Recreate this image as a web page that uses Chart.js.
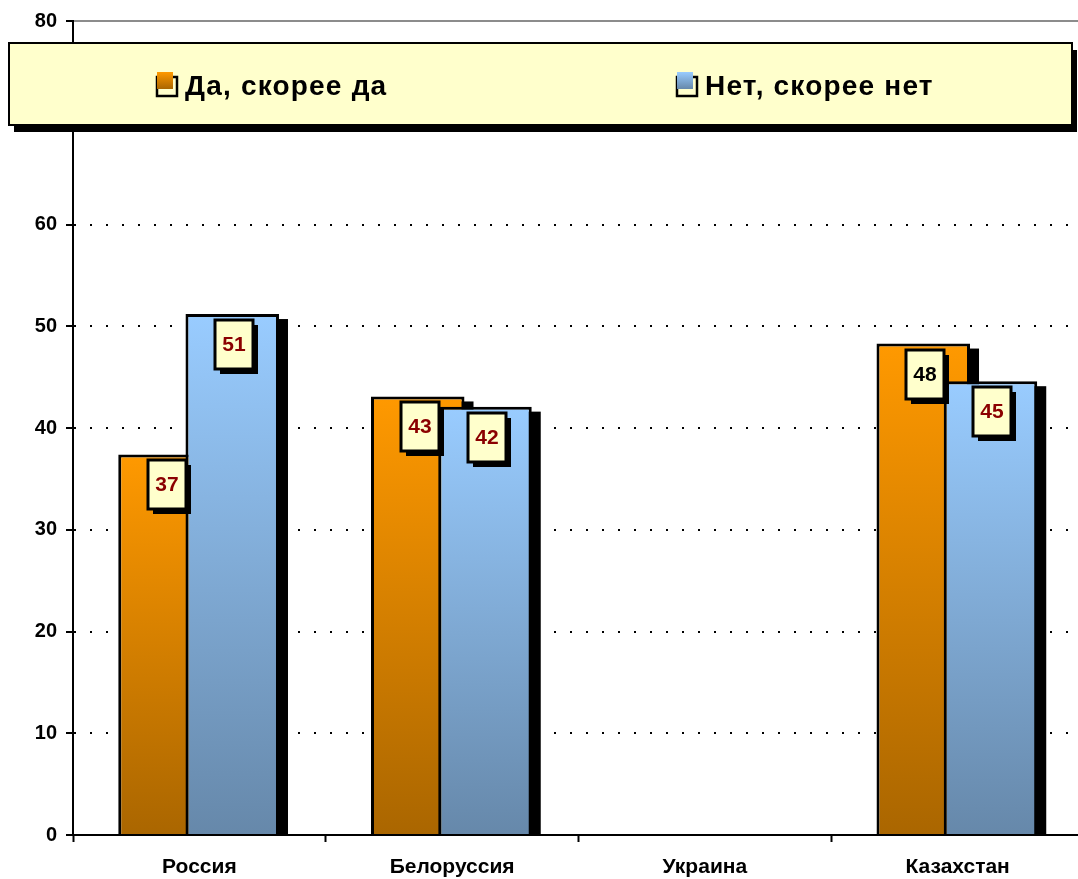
<!DOCTYPE html>
<html>
<head>
<meta charset="utf-8">
<script src="https://cdn.jsdelivr.net/npm/chart.js@4/dist/chart.umd.min.js"></script>
<style>
  html, body { margin: 0; padding: 0; background: #fff; overflow: hidden; }
  #wrap { width: 1090px; height: 879px; }
</style>
</head>
<body>
<div id="wrap"><canvas id="chart"></canvas></div>
<script>
// data
const categories = ['Россия', 'Белоруссия', 'Украина', 'Казахстан'];
const seriesNames = ['Да, скорее да', 'Нет, скорее нет'];
const yesValues = [37.4, 43.1, null, 48.3];
const noValues = [51.2, 42.1, null, 44.6];
const yMin = 0, yMax = 80, yStep = 10;

// styling
const FONT = '"Liberation Sans", Arial, sans-serif';
const orangeStops = ['#FF9900', '#AA6600'];
const blueStops = ['#99CCFF', '#6688AA'];
const labelColors = [
    ['#8B0000', '#8B0000', '#8B0000', '#000000'],
    ['#8B0000', '#8B0000', '#8B0000', '#8B0000']
];
const barShift = [-0.136, 0.130]; // part of a category width, bars overlap like in Excel

const barGradient = (stops) => (c) => {
    const chart = c.chart;
    if (!chart.chartArea || !c.parsed || c.parsed.y == null) return stops[0];
    const y = chart.scales.y;
    const g = chart.ctx.createLinearGradient(0, y.getPixelForValue(c.parsed.y), 0, y.getPixelForValue(0));
    g.addColorStop(0, stops[0]);
    g.addColorStop(1, stops[1]);
    return g;
};

// moves the bars sideways so they overlap
const shiftBars = {
    id: 'shiftBars',
    afterDatasetsUpdate(chart) {
        const x = chart.scales.x;
        const cat = x.getPixelForValue(1) - x.getPixelForValue(0);
        chart.data.datasets.forEach((ds, i) => {
            chart.getDatasetMeta(i).data.forEach(el => { el.x += barShift[i] * cat; });
        });
    }
};

// hard black drop shadow behind each bar
const barShadows = {
    id: 'barShadows',
    beforeDatasetsDraw(chart) {
        const ctx = chart.ctx;
        ctx.save();
        ctx.fillStyle = '#000';
        chart.data.datasets.forEach((ds, i) => {
            chart.getDatasetMeta(i).data.forEach((el, j) => {
                if (ds.data[j] == null) return;
                const p = el.getProps(['x', 'y', 'base', 'width'], true);
                ctx.fillRect(p.x - p.width / 2 + 9, p.y + 5, p.width, p.base - p.y - 5);
            });
        });
        ctx.restore();
    }
};

// yellow value boxes
const valueBoxes = {
    id: 'valueBoxes',
    afterDatasetsDraw(chart) {
        const ctx = chart.ctx;
        ctx.save();
        chart.data.datasets.forEach((ds, i) => {
            chart.getDatasetMeta(i).data.forEach((el, j) => {
                if (ds.data[j] == null) return;
                const p = el.getProps(['x', 'y'], true);
                const w = 38, h = 49;
                const bx = Math.round(p.x - w / 2 + 2), by = Math.round(p.y + 6);
                ctx.fillStyle = '#000';
                ctx.fillRect(bx + 5, by + 5, w, h);
                ctx.fillStyle = '#FFFFCC';
                ctx.fillRect(bx, by, w, h);
                ctx.lineWidth = 3;
                ctx.strokeStyle = '#000';
                ctx.strokeRect(bx, by, w, h);
                ctx.fillStyle = labelColors[i][j];
                ctx.font = 'bold 21px ' + FONT;
                ctx.textAlign = 'center';
                ctx.textBaseline = 'middle';
                ctx.fillText(String(Math.round(ds.data[j])), bx + w / 2, by + h / 2 + 1);
            });
        });
        ctx.restore();
    }
};

// legend box drawn over the plot
const boxLegend = {
    id: 'boxLegend',
    afterDraw(chart) {
        const ctx = chart.ctx;
        const L = 9, T = 43, R = 1072, B = 125;
        ctx.save();
        ctx.fillStyle = '#000';
        ctx.fillRect(L + 5, T + 7, R - L, B - T);
        ctx.fillStyle = '#FFFFCC';
        ctx.fillRect(L, T, R - L, B - T);
        ctx.lineWidth = 2;
        ctx.strokeStyle = '#000';
        ctx.strokeRect(L, T, R - L, B - T);

        const items = [
            { x: 156, stops: orangeStops },
            { x: 676, stops: blueStops }
        ];
        items.forEach((it, i) => {
            ctx.fillStyle = '#FFFFCC';
            ctx.fillRect(it.x, 76, 21, 20);
            ctx.lineWidth = 2.5;
            ctx.strokeStyle = '#000';
            ctx.strokeRect(it.x + 1, 77, 20, 19);
            const g = ctx.createLinearGradient(0, 72, 0, 89);
            g.addColorStop(0, it.stops[0]);
            g.addColorStop(1, it.stops[1]);
            ctx.fillStyle = g;
            ctx.fillRect(it.x + 1, 72, 16, 17);
            ctx.fillStyle = '#000';
            ctx.font = 'bold 28px ' + FONT;
            ctx.letterSpacing = '1.2px';
            ctx.textAlign = 'left';
            ctx.textBaseline = 'middle';
            ctx.fillText(seriesNames[i], it.x + 29, 87);
            ctx.letterSpacing = '0px';
        });
        ctx.restore();
    }
};

new Chart(document.getElementById('chart'), {
    type: 'bar',
    data: {
        labels: categories,
        datasets: [
            {
                label: seriesNames[0],
                data: yesValues,
                backgroundColor: barGradient(orangeStops),
                borderColor: '#000',
                borderWidth: 3,
                order: 1
            },
            {
                label: seriesNames[1],
                data: noValues,
                backgroundColor: barGradient(blueStops),
                borderColor: '#000',
                borderWidth: 3,
                order: 0
            }
        ]
    },
    options: {
        responsive: true,
        maintainAspectRatio: false,
        animation: false,
        grouped: false,
        categoryPercentage: 1,
        barPercentage: 0.37,
        layout: { padding: { top: 16, right: 6, bottom: 0, left: 0 } },
        plugins: {
            legend: { display: false },
            tooltip: { enabled: false }
        },
        scales: {
            x: {
                afterFit: (s) => { s.height = 44; },
                grid: {
                    offset: true,
                    drawOnChartArea: false,
                    tickLength: 7,
                    tickWidth: 2,
                    tickColor: '#000'
                },
                border: { color: '#000', width: 2 },
                ticks: {
                    color: '#000',
                    padding: 13,
                    font: { family: FONT, size: 21, weight: 'bold' }
                }
            },
            y: {
                min: yMin,
                max: yMax,
                afterFit: (s) => { s.width = 73; },
                grid: {
                    color: (c) => c.tick && c.tick.value === yMax ? '#8c8c8c' : '#000',
                    lineWidth: 2,
                    tickLength: 7,
                    tickWidth: 2,
                    tickColor: '#000',
                    tickBorderDash: []
                },
                border: {
                    color: '#000',
                    width: 2,
                    dash: (c) => c.tick && c.tick.value === yMax ? [] : [2, 14]
                },
                ticks: {
                    stepSize: yStep,
                    color: '#000',
                    padding: 9,
                    font: { family: FONT, size: 20, weight: 'bold' }
                }
            }
        }
    },
    plugins: [shiftBars, barShadows, valueBoxes, boxLegend]
});
</script>
</body>
</html>
